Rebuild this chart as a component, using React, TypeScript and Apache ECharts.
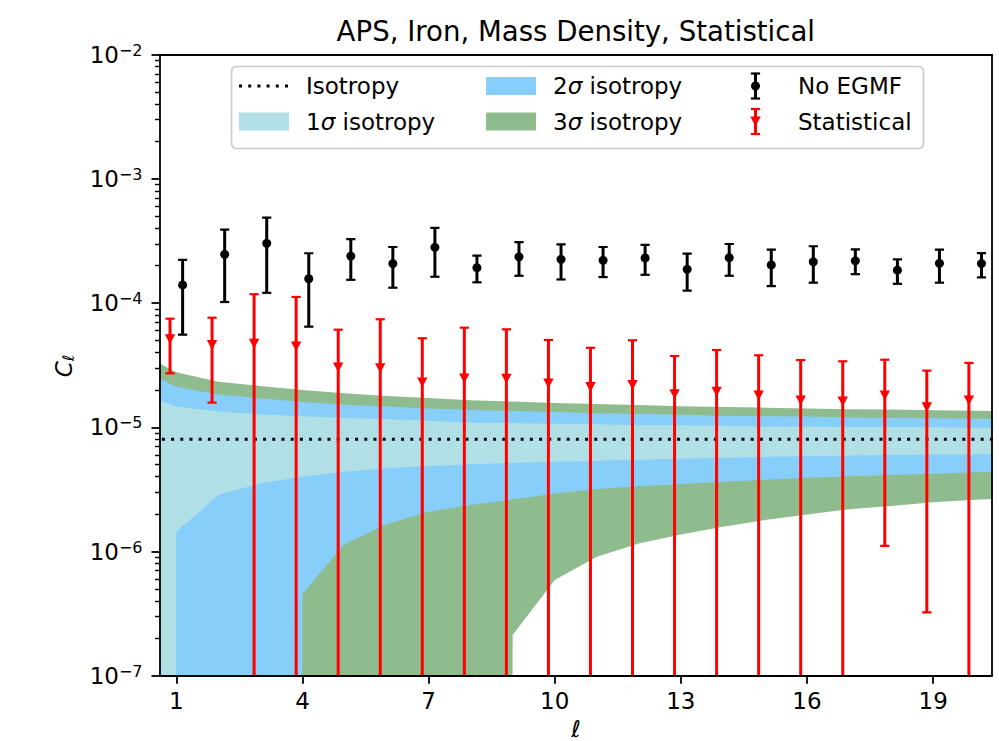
import React, { useEffect, useRef } from 'react';
import * as echarts from 'echarts';

// ---------------- data ----------------
const ELL = [1, 2, 3, 4, 5, 6, 7, 8, 9, 10, 11, 12, 13, 14, 15, 16, 17, 18, 19, 20];
const X_TICKS = [1, 4, 7, 10, 13, 16, 19];
const Y_MAJOR = [1e-7, 1e-6, 1e-5, 1e-4, 1e-3, 1e-2];
const ISOTROPY = 8e-6;

const NO_EGMF = [1.40e-4, 2.47e-4, 3.03e-4, 1.57e-4, 2.39e-4, 2.08e-4, 2.81e-4, 1.93e-4, 2.36e-4, 2.25e-4, 2.21e-4, 2.31e-4, 1.87e-4, 2.32e-4, 2.03e-4, 2.15e-4, 2.19e-4, 1.84e-4, 2.09e-4, 2.08e-4];
const NO_EGMF_HIGH = [2.23e-4, 3.90e-4, 4.88e-4, 2.52e-4, 3.27e-4, 2.83e-4, 4.03e-4, 2.41e-4, 3.10e-4, 2.97e-4, 2.83e-4, 2.94e-4, 2.50e-4, 2.99e-4, 2.69e-4, 2.87e-4, 2.71e-4, 2.25e-4, 2.69e-4, 2.53e-4];
const NO_EGMF_LOW = [5.57e-5, 1.02e-4, 1.21e-4, 6.46e-5, 1.54e-4, 1.33e-4, 1.63e-4, 1.47e-4, 1.66e-4, 1.55e-4, 1.62e-4, 1.69e-4, 1.26e-4, 1.66e-4, 1.37e-4, 1.46e-4, 1.71e-4, 1.43e-4, 1.46e-4, 1.61e-4];

const STATISTICAL = [5.12e-5, 4.60e-5, 4.71e-5, 4.49e-5, 3.04e-5, 2.99e-5, 2.30e-5, 2.48e-5, 2.46e-5, 2.26e-5, 2.11e-5, 2.19e-5, 1.85e-5, 1.94e-5, 1.81e-5, 1.65e-5, 1.62e-5, 1.81e-5, 1.45e-5, 1.65e-5];
const STATISTICAL_HIGH = [7.49e-5, 7.63e-5, 1.18e-4, 1.12e-4, 6.11e-5, 7.41e-5, 5.21e-5, 6.34e-5, 6.15e-5, 5.05e-5, 4.37e-5, 5.02e-5, 3.75e-5, 4.19e-5, 3.80e-5, 3.48e-5, 3.40e-5, 3.50e-5, 2.86e-5, 3.30e-5];
// null = lower end is below zero (off the log axis)
const STATISTICAL_LOW: (number | null)[] = [2.72e-5, 1.58e-5, null, null, null, null, null, null, null, null, null, null, null, null, null, null, null, 1.11e-6, 3.24e-7, null];

const BAND_ELL = [0, 1, 2, 3, 4, 5, 6, 7, 8, 9, 10, 11, 12, 13, 14, 15, 16, 17, 18, 19, 20, 21];
const SIGMA3_HIGH = [4.2e-5, 2.77e-5, 2.33e-5, 2.15e-5, 2.00e-5, 1.88e-5, 1.79e-5, 1.72e-5, 1.65e-5, 1.61e-5, 1.57e-5, 1.54e-5, 1.51e-5, 1.48e-5, 1.46e-5, 1.44e-5, 1.42e-5, 1.40e-5, 1.39e-5, 1.37e-5, 1.36e-5, 1.35e-5];
const SIGMA2_HIGH = [3.1e-5, 2.12e-5, 1.84e-5, 1.71e-5, 1.60e-5, 1.52e-5, 1.47e-5, 1.42e-5, 1.38e-5, 1.35e-5, 1.33e-5, 1.30e-5, 1.28e-5, 1.26e-5, 1.24e-5, 1.23e-5, 1.22e-5, 1.20e-5, 1.19e-5, 1.18e-5, 1.17e-5, 1.16e-5];
const SIGMA1_HIGH = [1.9e-5, 1.47e-5, 1.34e-5, 1.27e-5, 1.23e-5, 1.19e-5, 1.16e-5, 1.13e-5, 1.09e-5, 1.08e-5, 1.07e-5, 1.06e-5, 1.04e-5, 1.04e-5, 1.03e-5, 1.01e-5, 1.01e-5, 1.00e-5, 1.00e-5, 1.00e-5, 9.93e-6, 9.9e-6];
const SIGMA1_LOW: (number | null)[] = [null, 1.44e-6, 2.85e-6, 3.54e-6, 4.00e-6, 4.39e-6, 4.68e-6, 4.88e-6, 5.05e-6, 5.16e-6, 5.27e-6, 5.38e-6, 5.48e-6, 5.58e-6, 5.68e-6, 5.78e-6, 5.86e-6, 5.93e-6, 5.99e-6, 6.04e-6, 6.08e-6, 6.12e-6];
const SIGMA2_LOW: (number | null)[] = [null, null, null, null, 4.55e-7, 1.15e-6, 1.66e-6, 2.09e-6, 2.37e-6, 2.62e-6, 2.93e-6, 3.18e-6, 3.35e-6, 3.50e-6, 3.65e-6, 3.78e-6, 3.92e-6, 4.03e-6, 4.13e-6, 4.23e-6, 4.34e-6, 4.42e-6];
const SIGMA3_LOW: (number | null)[] = [null, null, null, null, null, null, null, null, null, 2.13e-7, 5.9e-7, 9.08e-7, 1.16e-6, 1.37e-6, 1.58e-6, 1.79e-6, 1.99e-6, 2.19e-6, 2.32e-6, 2.49e-6, 2.61e-6, 2.7e-6];

// ---------------- style ----------------
const FONT = 'DejaVu Sans';
const C1 = '#b0e0e6';
const C2 = '#87cefa';
const C3 = '#8fbc8f';
const RED = '#ff0000';
const FLOOR = 1e-100; // stand-in for non-positive values on the log axis
const RED_OFFSET = -0.15;
const BLACK_OFFSET = 0.15;
const BAR_W = 3;
const CAP_W = 2.2;
const CAP_HALF = 4.6;
const TRI_HALF_W = 5.2;
const TRI_HALF_H = 4.9;

const Y_MINOR: number[] = [];
for (let e = -7; e < -2; e++) for (let k = 2; k < 10; k++) Y_MINOR.push(k * Math.pow(10, e));

function bandSeries(name: string, lo: (number | null)[], hi: number[], color: string, z: number) {
  return {
    type: 'custom',
    name,
    xAxisIndex: 0,
    yAxisIndex: 0,
    clip: true,
    z,
    silent: true,
    data: BAND_ELL.map((l, i) => [l, hi[i]]),
    encode: { x: 0, y: 1 },
    renderItem: (params: any, api: any) => {
      if (params.dataIndex !== 0) return null;
      const pts: number[][] = [];
      for (let i = 0; i < BAND_ELL.length; i++) pts.push(api.coord([BAND_ELL[i], hi[i]]));
      for (let i = BAND_ELL.length - 1; i >= 0; i--) {
        const v = lo[i];
        pts.push(api.coord([BAND_ELL[i], v == null ? FLOOR : v]));
      }
      return { type: 'polygon', shape: { points: pts }, style: { fill: color } };
    },
  };
}

function triangle(cx: number, cy: number) {
  return [[cx - TRI_HALF_W, cy - TRI_HALF_H], [cx + TRI_HALF_W, cy - TRI_HALF_H], [cx, cy + TRI_HALF_H]];
}

function errorSeries(
  name: string,
  offset: number,
  values: number[],
  lows: (number | null)[],
  highs: number[],
  color: string,
  marker: 'circle' | 'triangle',
) {
  return {
    type: 'custom',
    name,
    xAxisIndex: 0,
    yAxisIndex: 0,
    clip: true,
    z: 6,
    silent: true,
    data: ELL.map((l, i) => [l + offset, values[i]]),
    encode: { x: 0, y: 1 },
    renderItem: (params: any, api: any) => {
      const i = params.dataIndex;
      const x = ELL[i] + offset;
      const c = api.coord([x, values[i]]);
      const top = api.coord([x, highs[i]]);
      const lowV = lows[i];
      const bot = api.coord([x, lowV == null ? FLOOR : lowV]);
      const children: any[] = [
        { type: 'line', shape: { x1: c[0], y1: top[1], x2: c[0], y2: bot[1] }, style: { stroke: color, lineWidth: BAR_W } },
        { type: 'line', shape: { x1: c[0] - CAP_HALF, y1: top[1], x2: c[0] + CAP_HALF, y2: top[1] }, style: { stroke: color, lineWidth: CAP_W } },
      ];
      if (lowV != null) {
        children.push({ type: 'line', shape: { x1: c[0] - CAP_HALF, y1: bot[1], x2: c[0] + CAP_HALF, y2: bot[1] }, style: { stroke: color, lineWidth: CAP_W } });
      }
      if (marker === 'circle') {
        children.push({ type: 'circle', shape: { cx: c[0], cy: c[1], r: 4.5 }, style: { fill: color } });
      } else {
        children.push({ type: 'polygon', shape: { points: triangle(c[0], c[1]) }, style: { fill: color } });
      }
      return { type: 'group', children };
    },
  };
}

const axisLine = { show: true, onZero: false, lineStyle: { color: '#000', width: 1.8 } };

const textStyle = { fontSize: 23, fontFamily: FONT, fill: '#000' };

function legendErrorHandle(x: number, y: number, color: string, marker: 'circle' | 'triangle') {
  const items: any[] = [
    { type: 'line', z: 101, shape: { x1: x, y1: y - 12.5, x2: x, y2: y + 12.5 }, style: { stroke: color, lineWidth: BAR_W } },
    { type: 'line', z: 101, shape: { x1: x - CAP_HALF, y1: y - 12.5, x2: x + CAP_HALF, y2: y - 12.5 }, style: { stroke: color, lineWidth: CAP_W } },
    { type: 'line', z: 101, shape: { x1: x - CAP_HALF, y1: y + 12.5, x2: x + CAP_HALF, y2: y + 12.5 }, style: { stroke: color, lineWidth: CAP_W } },
  ];
  if (marker === 'circle') {
    items.push({ type: 'circle', z: 102, shape: { cx: x, cy: y, r: 4.5 }, style: { fill: color } });
  } else {
    items.push({ type: 'polygon', z: 102, shape: { points: triangle(x, y) }, style: { fill: color } });
  }
  return items;
}

function legendText(x: number, y: number, text: string) {
  return {
    type: 'text',
    z: 101,
    x,
    y,
    style: {
      text,
      ...textStyle,
      textAlign: 'left',
      textVerticalAlign: 'middle',
      align: 'left',
      verticalAlign: 'middle',
      rich: {
        n: { fontSize: 23, fontFamily: FONT, fill: '#000' },
        i: { fontSize: 23, fontFamily: FONT, fill: '#000', fontStyle: 'italic' },
      },
    },
  };
}

const ROW1 = 86;
const ROW2 = 121.5;

const option: any = {
  animation: false,
  backgroundColor: '#ffffff',
  title: {
    text: 'APS, Iron, Mass Density, Statistical',
    left: 575.8,
    top: 17,
    padding: 0,
    textAlign: 'center',
    textStyle: { fontSize: 27.6, fontWeight: 'normal', fontFamily: FONT, color: '#000' },
  },
  grid: { left: 159.5, top: 54.7, width: 832.5, height: 621, containLabel: false },
  xAxis: [
    {
      type: 'value',
      min: 0.6,
      max: 20.4,
      position: 'bottom',
      z: 10,
      axisLine,
      axisTick: { show: true, length: 8, customValues: X_TICKS, lineStyle: { color: '#000', width: 1.8 } },
      axisLabel: { customValues: X_TICKS, margin: 14, fontSize: 23, fontFamily: FONT, color: '#000' },
      splitLine: { show: false },
    },
    {
      type: 'value',
      min: 0.6,
      max: 20.4,
      position: 'top',
      z: 10,
      axisLine,
      axisTick: { show: false },
      axisLabel: { show: false },
      splitLine: { show: false },
    },
  ],
  yAxis: [
    {
      type: 'log',
      logBase: 10,
      min: 1e-7,
      max: 1e-2,
      position: 'left',
      z: 10,
      axisLine,
      axisTick: { show: true, length: 8, customValues: Y_MAJOR, lineStyle: { color: '#000', width: 1.8 } },
      axisLabel: {
        customValues: Y_MAJOR,
        margin: 17,
        formatter: (v: number) => {
          const e = Math.round(Math.log10(v));
          return `{b|10}{s|${e < 0 ? '\u2212' : ''}${Math.abs(e)}}`;
        },
        rich: {
          b: { fontSize: 23, fontFamily: FONT, color: '#000' },
          s: { fontSize: 16, fontFamily: FONT, color: '#000', padding: [0, 0, 9, 0] },
        },
      },
      splitLine: { show: false },
      minorTick: { show: false },
    },
    {
      type: 'log',
      logBase: 10,
      min: 1e-7,
      max: 1e-2,
      position: 'left',
      z: 10,
      axisLine: { show: false },
      axisTick: { show: true, length: 4.5, customValues: Y_MINOR, lineStyle: { color: '#000', width: 1.4 } },
      axisLabel: { show: false },
      splitLine: { show: false },
    },
    {
      type: 'log',
      logBase: 10,
      min: 1e-7,
      max: 1e-2,
      position: 'right',
      z: 10,
      axisLine,
      axisTick: { show: false },
      axisLabel: { show: false },
      splitLine: { show: false },
    },
  ],
  series: [
    bandSeries('3σ isotropy', SIGMA3_LOW, SIGMA3_HIGH, C3, 1),
    bandSeries('2σ isotropy', SIGMA2_LOW, SIGMA2_HIGH, C2, 2),
    bandSeries('1σ isotropy', SIGMA1_LOW, SIGMA1_HIGH, C1, 3),
    {
      type: 'line',
      name: 'Isotropy',
      xAxisIndex: 0,
      yAxisIndex: 0,
      z: 4,
      silent: true,
      symbol: 'none',
      clip: true,
      data: BAND_ELL.map((l) => [l, ISOTROPY]),
      lineStyle: { color: '#000', width: 3, type: [3, 6.2], cap: 'butt' },
    },
    errorSeries('No EGMF', BLACK_OFFSET, NO_EGMF, NO_EGMF_LOW, NO_EGMF_HIGH, '#000000', 'circle'),
    errorSeries('Statistical', RED_OFFSET, STATISTICAL, STATISTICAL_LOW, STATISTICAL_HIGH, RED, 'triangle'),
  ],
  graphic: [
    {
      type: 'rect',
      z: 100,
      shape: { x: 231.5, y: 66.5, width: 692, height: 82, r: 5 },
      style: { fill: 'rgba(255,255,255,0.8)', stroke: '#cccccc', lineWidth: 1.7 },
    },
    { type: 'line', z: 101, shape: { x1: 239, y1: ROW1, x2: 289, y2: ROW1 }, style: { stroke: '#000', lineWidth: 3, lineDash: [3, 6.2] } },
    legendText(306, ROW1, 'Isotropy'),
    { type: 'rect', z: 101, shape: { x: 239, y: ROW2 - 9, width: 50, height: 18 }, style: { fill: C1 } },
    legendText(306, ROW2, '{n|1}{i|σ}{n| isotropy}'),
    { type: 'rect', z: 101, shape: { x: 486, y: ROW1 - 9, width: 50, height: 18 }, style: { fill: C2 } },
    legendText(553, ROW1, '{n|2}{i|σ}{n| isotropy}'),
    { type: 'rect', z: 101, shape: { x: 486, y: ROW2 - 9, width: 50, height: 18 }, style: { fill: C3 } },
    legendText(553, ROW2, '{n|3}{i|σ}{n| isotropy}'),
    ...legendErrorHandle(755.5, ROW1, '#000000', 'circle'),
    legendText(798, ROW1, 'No EGMF'),
    ...legendErrorHandle(755.5, ROW2, RED, 'triangle'),
    legendText(798, ROW2, 'Statistical'),
    {
      type: 'text',
      z: 101,
      x: 576,
      y: 729,
      style: {
        text: 'ℓ',
        fontSize: 23,
        fontFamily: FONT,
        fontStyle: 'italic',
        fill: '#000',
        textAlign: 'center',
        textVerticalAlign: 'middle',
        align: 'center',
        verticalAlign: 'middle',
      },
    },
    {
      type: 'text',
      z: 101,
      x: 64,
      y: 366,
      rotation: Math.PI / 2,
      style: {
        text: '{c|C}{s|ℓ}',
        textAlign: 'center',
        textVerticalAlign: 'middle',
        align: 'center',
        verticalAlign: 'middle',
        rich: {
          c: { fontSize: 23, fontFamily: FONT, fontStyle: 'italic', fill: '#000' },
          s: { fontSize: 16, fontFamily: FONT, fontStyle: 'italic', fill: '#000', padding: [9, 0, 0, 0] },
        },
      },
    },
  ],
};

export default function App() {
  const ref = useRef<HTMLDivElement>(null);
  useEffect(() => {
    if (!ref.current) return;
    const chart = echarts.init(ref.current, null, { renderer: 'svg' });
    chart.setOption(option);
    return () => chart.dispose();
  }, []);
  return (
    <div
      ref={ref}
      style={{ position: 'fixed', left: 0, top: 0, width: 999, height: 741, background: '#fff' }}
    />
  );
}
